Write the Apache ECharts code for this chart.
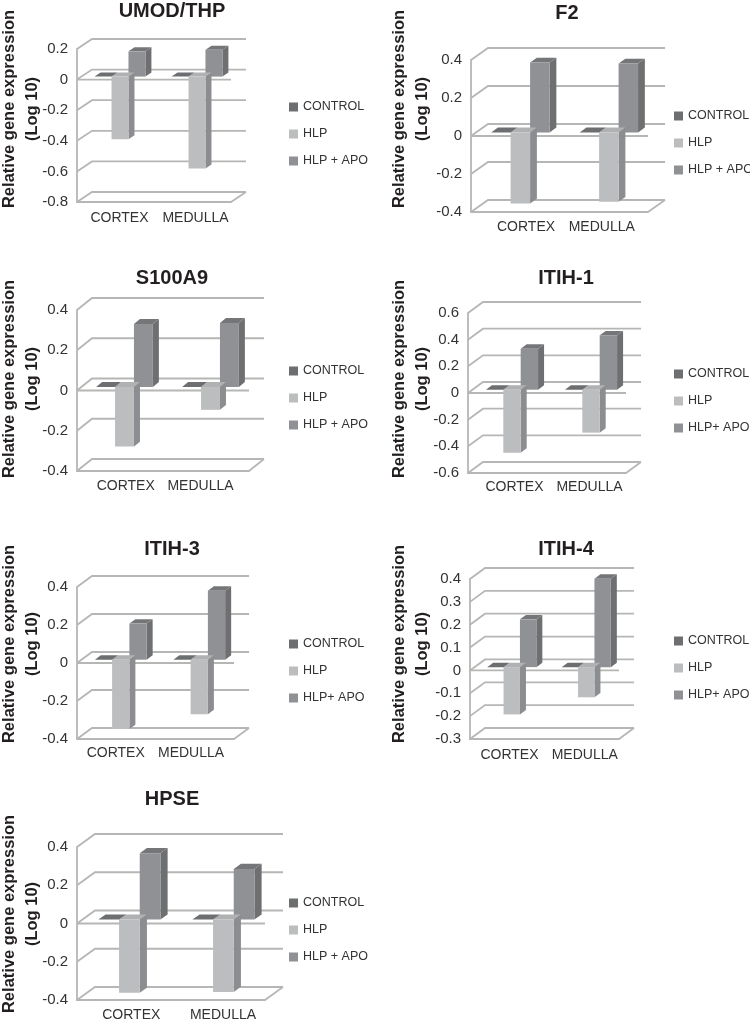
<!DOCTYPE html>
<html><head><meta charset="utf-8">
<style>html,body{margin:0;padding:0;background:#fff}#c{width:750px;height:1024px}</style>
<script src="https://cdn.jsdelivr.net/npm/echarts@6/dist/echarts.min.js"></script>
</head><body><div id="c"></div>
<script>
// ---- data ----
const categories = ['CORTEX', 'MEDULLA'];
const controlValues = [0, 0];

const umodHlp = [-0.41, -0.60];
const umodApo = [0.165, 0.175];
const umodTicks = [-0.8, -0.6, -0.4, -0.2, 0, 0.2];

const f2Hlp = [-0.374, -0.365];
const f2Apo = [0.368, 0.363];
const f2Ticks = [-0.4, -0.2, 0, 0.2, 0.4];

const s100Hlp = [-0.296, -0.114];
const s100Apo = [0.313, 0.318];
const s100Ticks = [-0.4, -0.2, 0, 0.2, 0.4];

const itih1Hlp = [-0.472, -0.322];
const itih1Apo = [0.308, 0.408];
const itih1Ticks = [-0.6, -0.4, -0.2, 0, 0.2, 0.4, 0.6];

const itih3Hlp = [-0.365, -0.287];
const itih3Apo = [0.19, 0.363];
const itih3Ticks = [-0.4, -0.2, 0, 0.2, 0.4];

const itih4Hlp = [-0.207, -0.132];
const itih4Apo = [0.209, 0.387];
const itih4Ticks = [-0.3, -0.2, -0.1, 0, 0.1, 0.2, 0.3, 0.4];

const hpseHlp = [-0.383, -0.378];
const hpseApo = [0.347, 0.265];
const hpseTicks = [-0.4, -0.2, 0, 0.2, 0.4];

const panels = [
  {title:'UMOD/THP', hlp:umodHlp, apo:umodApo, ticks:umodTicks, step:0.2, apoName:'HLP + APO'},
  {title:'F2', hlp:f2Hlp, apo:f2Apo, ticks:f2Ticks, step:0.2, apoName:'HLP + APO'},
  {title:'S100A9', hlp:s100Hlp, apo:s100Apo, ticks:s100Ticks, step:0.2, apoName:'HLP + APO'},
  {title:'ITIH-1', hlp:itih1Hlp, apo:itih1Apo, ticks:itih1Ticks, step:0.2, apoName:'HLP+ APO'},
  {title:'ITIH-3', hlp:itih3Hlp, apo:itih3Apo, ticks:itih3Ticks, step:0.2, apoName:'HLP+ APO'},
  {title:'ITIH-4', hlp:itih4Hlp, apo:itih4Apo, ticks:itih4Ticks, step:0.1, apoName:'HLP+ APO'},
  {title:'HPSE', hlp:hpseHlp, apo:hpseApo, ticks:hpseTicks, step:0.2, apoName:'HLP + APO'}
];

// ---- layout ----
const layouts = [
  {x0:77,  xr:231, top:49,  bottom:202,  dx:15, dy:-10, tx:172, ty:11,  nx:21,  ny:109, lx:289, ly:107, xm:9, shift:[4, 3]},
  {x0:471, xr:648, top:60,  bottom:212,  dx:17, dy:-12, tx:567, ty:13,  nx:411, ny:109, lx:674, ly:116, xm:8, shift:[10.8, -2]},
  {x0:77,  xr:249, top:310, bottom:471,  dx:15, dy:-12, tx:172, ty:278, nx:21,  ny:379, lx:289, ly:371, xm:8, shift:[5.7, -5.5]},
  {x0:468, xr:626, top:313, bottom:473,  dx:15, dy:-11, tx:566, ty:278, nx:411, ny:379, lx:674, ly:374, xm:7, shift:[7, 3]},
  {x0:77,  xr:234, top:587, bottom:739,  dx:15, dy:-11, tx:172, ty:549, nx:21,  ny:644, lx:289, ly:644, xm:7, shift:[-0.5, -3.7]},
  {x0:470, xr:619, top:579, bottom:739,  dx:15, dy:-11, tx:566, ty:549, nx:411, ny:644, lx:674, ly:641, xm:9, shift:[2.2, 3]},
  {x0:77,  xr:265, top:847, bottom:1000, dx:18, dy:-13, tx:172, ty:799, nx:21,  ny:914, lx:289, ly:903, xm:8, shift:[7.3, 5]}
];

const wallColor = '#b6b7b4';
const textColor = '#333335';
const boldColor = '#231f20';
const faces = {
  control: {front:'#6d6e70', side:'#5f6062', top:'#6d6e70'},
  hlp:     {front:'#bcbdbf', side:'#8c8d90', top:'#b0b1b3'},
  apo:     {front:'#8f9194', side:'#6e6f71', top:'#757678'}
};

function wallItem(dx, dy) {
  return function (params, api) {
    const v = api.value(1);
    const cs = params.coordSys;
    const y = api.coord([0, v])[1];
    const x0 = cs.x, xr = cs.x + cs.width;
    const lineStyle = {stroke: wallColor, lineWidth: 1.8, fill: null};
    const children = [{type:'polyline', shape:{points:[[x0,y],[x0+dx,y+dy],[xr+dx,y+dy]]}, style:lineStyle}];
    if (v === 0) {
      children.push({type:'line', shape:{x1:x0,y1:y,x2:xr,y2:y}, style:lineStyle});
    }
    if (y >= cs.y + cs.height - 0.5) {
      children.push({type:'polyline', shape:{points:[[xr,y],[xr+dx,y+dy]]}, style:lineStyle});
    }
    return {type:'group', children};
  };
}

function barItem(slot, face, dx, dy) {
  return function (params, api) {
    const idx = api.value(0);
    const c = api.coord([idx, api.value(1)]);
    const z = api.coord([idx, 0]);
    const band = api.size([1, 0])[0];
    const w = band * 0.22;
    const ox = dx * 0.3, oy = dy * 0.3, bx = dx * 0.4, by = dy * 0.4;
    const l = c[0] + ox + (slot - 1.5) * w, r = l + w;
    const t = Math.min(c[1], z[1]) + oy, b = Math.max(c[1], z[1]) + oy;
    return {type:'group', children:[
      {type:'polygon', shape:{points:[[r,t],[r+bx,t+by],[r+bx,b+by],[r,b]]}, style:{fill:face.side}},
      {type:'polygon', shape:{points:[[l,t],[l+bx,t+by],[r+bx,t+by],[r,t]]}, style:{fill:face.top}},
      {type:'polygon', shape:{points:[[l,t],[r,t],[r,b],[l,b]]}, style:{fill:face.front}}
    ]};
  };
}

const option = {
  animation:false, backgroundColor:'#ffffff',
  title:[], grid:[], xAxis:[], yAxis:[], legend:[], series:[], graphic:[]
};

panels.forEach(function (p, i) {
  const g = layouts[i];
  option.title.push({
    text:p.title, left:g.tx, top:g.ty - 11, textAlign:'center', padding:0,
    textStyle:{fontFamily:'Liberation Sans', fontSize:20, fontWeight:'bold', color:boldColor, lineHeight:22}
  });
  option.grid.push({left:g.x0, top:g.top, width:g.xr - g.x0, height:g.bottom - g.top, containLabel:false});
  option.xAxis.push({
    gridIndex:i, type:'category',
    data:categories.map(function (name, k) {
      const s = g.shift[k];
      return {value:name, textStyle:{padding: s >= 0 ? [0,0,0,2*s] : [0,-2*s,0,0]}};
    }),
    axisLine:{show:true, onZero:false, lineStyle:{color:wallColor, width:1.8}},
    axisTick:{show:false}, splitLine:{show:false},
    axisLabel:{fontFamily:'Liberation Sans', fontSize:14, color:textColor, margin:g.xm, interval:0}
  });
  option.yAxis.push({
    gridIndex:i, type:'value', min:p.ticks[0], max:p.ticks[p.ticks.length-1], interval:p.step,
    axisLine:{show:true, onZero:false, lineStyle:{color:wallColor, width:1.8}},
    axisTick:{show:false}, splitLine:{show:false},
    axisLabel:{fontFamily:'Liberation Sans', fontSize:15, color:textColor, margin:9, padding:[3,0,0,0]}
  });
  option.legend.push({
    orient:'vertical', left:g.lx, top:g.ly - 6.5, padding:0, itemWidth:9, itemHeight:9, itemGap:14, icon:'rect',
    selectedMode:false,
    data:['CONTROL', 'HLP', p.apoName],
    textStyle:{fontFamily:'Liberation Sans', fontSize:12.5, color:textColor, lineHeight:13, padding:[0,0,0,0]},
    itemStyle:{borderWidth:0}
  });
  const common = {type:'custom', xAxisIndex:i, yAxisIndex:i, silent:true, clip:false, encode:{x:0, y:1}};
  option.series.push(Object.assign({}, common, {
    name:'wall' + i, z:1, renderItem:wallItem(g.dx, g.dy),
    data:p.ticks.map(function (t) { return [0, t]; })
  }));
  option.series.push(Object.assign({}, common, {
    name:p.apoName, z:3, itemStyle:{color:faces.apo.front}, renderItem:barItem(2, faces.apo, g.dx, g.dy),
    data:p.apo.map(function (v, k) { return [k, v]; })
  }));
  option.series.push(Object.assign({}, common, {
    name:'HLP', z:4, itemStyle:{color:faces.hlp.front}, renderItem:barItem(1, faces.hlp, g.dx, g.dy),
    data:p.hlp.map(function (v, k) { return [k, v]; })
  }));
  option.series.push(Object.assign({}, common, {
    name:'CONTROL', z:5, itemStyle:{color:faces.control.front}, renderItem:barItem(0, faces.control, g.dx, g.dy),
    data:controlValues.map(function (v, k) { return [k, v]; })
  }));
  option.graphic.push({
    type:'text', x:g.nx, y:g.ny, rotation:Math.PI/2, silent:true,
    style:{text:'Relative gene expression\n(Log 10)', align:'center', verticalAlign:'middle',
      font:'bold 16.5px "Liberation Sans"', lineHeight:23, fill:boldColor}
  });
});

const chart = echarts.init(document.getElementById('c'), null, {renderer:'canvas'});
chart.setOption(option);
</script></body></html>
